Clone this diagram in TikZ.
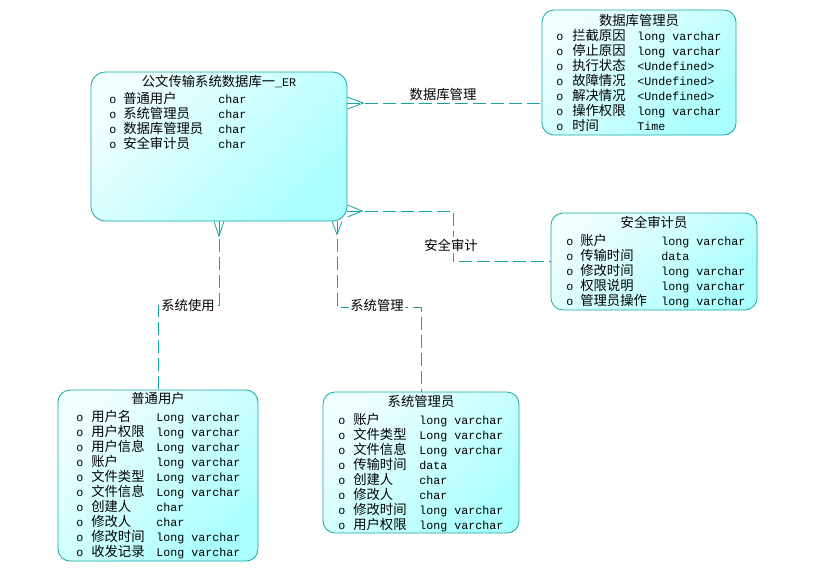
\documentclass[tikz,border=0pt]{standalone}
\usepackage{fontspec}
\setmainfont{Noto Sans CJK SC}
\setmonofont[Scale=0.875]{Liberation Mono}
\usepackage{tikz}
\definecolor{erline}{RGB}{20,165,165}
\definecolor{erlight}{RGB}{240,255,255}
\definecolor{erdark}{RGB}{170,255,255}
\newcommand{\fld}[2]{\texttt{o} & \smash{#1} & \texttt{#2}\\}

\begin{document}
\begin{tikzpicture}[
x=0.75pt, y=-0.75pt,
font=\fontsize{10pt}{11.25pt}\selectfont,
entity/.style={draw=erline, semithick, rounded corners=9pt, top color=erlight,
  bottom color=erdark, shading angle=45, inner sep=0pt},
etitle/.style={anchor=base, inner sep=0pt},
fields/.style={anchor=base west, inner sep=0pt},
rel/.style={erline, semithick, dash pattern=on 9.75pt off 3.75pt},
crow/.style={erline, semithick},
rellabel/.style={fill=white, inner sep=1pt}
]
\useasboundingbox (0,0) rectangle (827,583);

% entities
\node[entity, rounded corners=11pt, minimum width=192pt, minimum height=111.75pt] (main) at (219,146.5) {};
\node[etitle] (main-t) at (219,86) {公文传输系统数据库一\texttt{\_ER}};
\node[fields] (main-f) at (109,103) {\begin{tabular}[t]{@{}p{10.5pt}@{}p{71.25pt}@{}l@{}}
\fld{普通用户}{char}
\fld{系统管理员}{char}
\fld{数据库管理员}{char}
\fld{安全审计员}{char}
\end{tabular}};

\node[entity, minimum width=145.5pt, minimum height=93.75pt] (dba) at (639,72.5) {};
\node[etitle] (dba-t) at (639,25) {数据库管理员};
\node[fields] (dba-f) at (556,40) {\begin{tabular}[t]{@{}p{12pt}@{}p{48.75pt}@{}l@{}}
\fld{拦截原因}{long varchar}
\fld{停止原因}{long varchar}
\fld{执行状态}{<Undefined>}
\fld{故障情况}{<Undefined>}
\fld{解决情况}{<Undefined>}
\fld{操作权限}{long varchar}
\fld{时间}{Time}
\end{tabular}};

\node[entity, minimum width=154.5pt, minimum height=72.75pt] (sec) at (654,261.5) {};
\node[etitle] (sec-t) at (654,227) {安全审计员};
\node[fields] (sec-f) at (566,245) {\begin{tabular}[t]{@{}p{10.5pt}@{}p{60.75pt}@{}l@{}}
\fld{账户}{long varchar}
\fld{传输时间}{data}
\fld{修改时间}{long varchar}
\fld{权限说明}{long varchar}
\fld{管理员操作}{long varchar}
\end{tabular}};

\node[entity, minimum width=150pt, minimum height=128.25pt] (user) at (158,475.5) {};
\node[etitle] (user-t) at (158,403) {普通用户};
\node[fields] (user-f) at (76,421) {\begin{tabular}[t]{@{}p{11.25pt}@{}p{48.75pt}@{}l@{}}
\fld{用户名}{Long varchar}
\fld{用户权限}{long varchar}
\fld{用户信息}{Long varchar}
\fld{账户}{long varchar}
\fld{文件类型}{Long varchar}
\fld{文件信息}{Long varchar}
\fld{创建人}{char}
\fld{修改人}{char}
\fld{修改时间}{long varchar}
\fld{收发记录}{Long varchar}
\end{tabular}};

\node[entity, minimum width=147pt, minimum height=105.75pt] (sysadm) at (421,462.5) {};
\node[etitle] (sysadm-t) at (421,406) {系统管理员};
\node[fields] (sysadm-f) at (338,424) {\begin{tabular}[t]{@{}p{11.25pt}@{}p{49.5pt}@{}l@{}}
\fld{账户}{long varchar}
\fld{文件类型}{Long varchar}
\fld{文件信息}{Long varchar}
\fld{传输时间}{data}
\fld{创建人}{char}
\fld{修改人}{char}
\fld{修改时间}{long varchar}
\fld{用户权限}{long varchar}
\end{tabular}};

% relationship ends on the main entity
\coordinate (m1) at ([yshift=32.625pt]main.east);
\coordinate (m2) at ([yshift=-48.375pt]main.east);
\coordinate (m3) at ([xshift=88.5pt]main.south);
\coordinate (m4) at (main.south);

\draw[rel] (m1) -- (m1 -| dba.west);
\draw[rel] (m2) -| (453,261.5) -- (sec.west);
\draw[rel] (m3) -- (337,307) -| (sysadm.north);
\draw[rel] (m4) -- (219,305) -| (user.north);

% crow's feet
\draw[crow] (m1) ++(0,-6) -- ++(16,6) -- ++(-16,6);
\draw[crow] (m2) ++(0,-6) -- ++(15,6) -- ++(-15,6);
\draw[crow] (m3) ++(-5,0) -- ++(5,13) -- ++(5,-13);
\draw[crow] (m4) ++(-5,0) -- ++(5,15) -- ++(5,-15);

\node[inner sep=1pt] (l-dba) at (443,94) {数据库管理};
\node[rellabel] (l-sec) at (451,245) {安全审计};
\node[rellabel] (l-sys) at (377,305) {系统管理};
\node[rellabel] (l-user) at (188,305) {系统使用};
\end{tikzpicture}
\end{document}
